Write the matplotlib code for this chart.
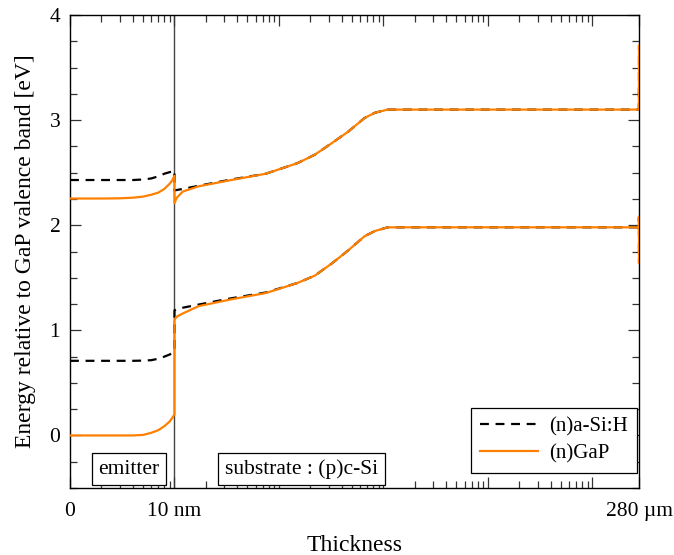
import matplotlib
matplotlib.use("Agg")
import matplotlib.pyplot as plt
from matplotlib.ticker import FixedLocator, FixedFormatter, NullFormatter

plt.rcParams['font.family'] = ['Liberation Serif', 'DejaVu Serif']
plt.rcParams['mathtext.fontset'] = 'stix'

# ---------------- data ----------------
# emitter region (x in nm; "0" is drawn at 1 nm on the log axis)
x_emitter = [1, 2, 3, 4, 5, 6, 7, 8, 9, 9.5, 10]
asi_ec_emitter = [2.43, 2.43, 2.43, 2.43, 2.435, 2.445, 2.465, 2.49, 2.505, 2.51, 2.52]
asi_ev_emitter = [0.71, 0.71, 0.71, 0.71, 0.712, 0.716, 0.73, 0.75, 0.77, 0.785, 0.80]
gap_ec_emitter = [2.254, 2.254, 2.256, 2.262, 2.272, 2.29, 2.31, 2.345, 2.395, 2.425, 2.47]
gap_ev_emitter = [0.0, 0.0, 0.0, 0.0, 0.005, 0.025, 0.05, 0.088, 0.133, 0.165, 0.20]

# substrate region
x_substrate = [10, 10.5, 12, 17, 35, 75, 150, 220, 320, 460, 660, 830, 1100,
               2000, 1e4, 1e5, 2.79e5, 2.7995e5, 2.8e5]
asi_ec_substrate = [2.33, 2.335, 2.345, 2.375, 2.435, 2.49, 2.59, 2.67, 2.78, 2.89,
                    3.02, 3.07, 3.10, 3.10, 3.10, 3.10, 3.10, 3.40, 3.71]
asi_ev_substrate = [1.19, 1.20, 1.215, 1.245, 1.305, 1.36, 1.45, 1.52, 1.635, 1.76,
                    1.895, 1.945, 1.98, 1.98, 1.98, 1.98, 1.98, 2.08, 1.64]
gap_ec_substrate = [2.21, 2.26, 2.32, 2.37, 2.43, 2.49, 2.59, 2.67, 2.78, 2.89,
                    3.02, 3.07, 3.10, 3.10, 3.10, 3.10, 3.10, 3.40, 3.71]
gap_ev_substrate = [1.10, 1.13, 1.16, 1.23, 1.295, 1.355, 1.45, 1.52, 1.635, 1.76,
                    1.895, 1.945, 1.98, 1.98, 1.98, 1.98, 1.98, 2.08, 1.64]

series_labels = ['(n)a-Si:H', '(n)GaP']
x_major_ticks = [1, 10, 100, 1e3, 1e4, 1e5, 2.8e5]
x_major_labels = ['0', '10 nm', '', '', '', '', '280 µm']
y_major_ticks = [0, 1, 2, 3, 4]
region_labels = ['emitter', 'substrate : (p)c-Si']
region_x = [3.67, 164.5]

# ---------------- plot ----------------
fig = plt.figure(figsize=(6.74, 5.55), dpi=100)
ax = fig.add_axes([70/674, 1-488/555, (639-70)/674, (488-15)/555])

orange = '#ff8000'
x_all = x_emitter + x_substrate

ax.axvline(10, color='#444444', lw=1.0, zorder=1)

l1, = ax.plot(x_all, asi_ec_emitter + asi_ec_substrate, color='black', lw=1.6,
              ls=(0, (4, 3)), label=series_labels[0], zorder=2)
ax.plot(x_all, asi_ev_emitter + asi_ev_substrate, color='black', lw=1.6,
        ls=(0, (4, 3)), zorder=2)
l2, = ax.plot(x_all, gap_ec_emitter + gap_ec_substrate, color=orange, lw=1.6,
              label=series_labels[1], zorder=3)
ax.plot(x_all, gap_ev_emitter + gap_ev_substrate, color=orange, lw=1.6, zorder=3)

ax.set_xscale('log')
ax.set_xlim(1, 2.8e5)
ax.set_ylim(-0.5, 4)

ax.xaxis.set_major_locator(FixedLocator(x_major_ticks))
ax.xaxis.set_major_formatter(FixedFormatter(x_major_labels))
minor = [k * 10**e for e in range(0, 5) for k in range(2, 10)]
ax.xaxis.set_minor_locator(FixedLocator(minor))
ax.xaxis.set_minor_formatter(NullFormatter())

ax.yaxis.set_major_locator(FixedLocator(y_major_ticks))
ax.yaxis.set_minor_locator(FixedLocator([v * 0.25 for v in range(-2, 17)]))

ax.tick_params(which='both', direction='in', top=True, right=True,
               labelsize=15.5, color='#333333', width=0.9)
ax.tick_params(which='major', length=8.0)
ax.tick_params(which='minor', length=5.0)
ax.tick_params(axis='x', which='major', pad=10)
ax.tick_params(axis='y', which='major', pad=7)

for s in ax.spines.values():
    s.set_linewidth(1.0)
    s.set_color('black')

ax.set_xlabel('Thickness', fontsize=17, labelpad=10)
ax.set_ylabel('Energy relative to GaP valence band [eV]', fontsize=17, labelpad=10)

for txt, xv in zip(region_labels, region_x):
    ax.text(xv, -0.32, txt, fontsize=15.5, ha='center', va='center',
            bbox=dict(boxstyle='square,pad=0.3', fc='white', ec='black', lw=0.9),
            zorder=5)

leg = ax.legend(handles=[l1, l2], loc='lower right', fontsize=15, frameon=True,
                fancybox=False, edgecolor='black', framealpha=1,
                handlelength=2.8, handletextpad=0.5, borderpad=0.45,
                labelspacing=0.35, borderaxespad=0,
                bbox_to_anchor=(0.9965, 0.032))
leg.get_frame().set_linewidth(0.9)

fig.savefig('out.png', dpi=100)
